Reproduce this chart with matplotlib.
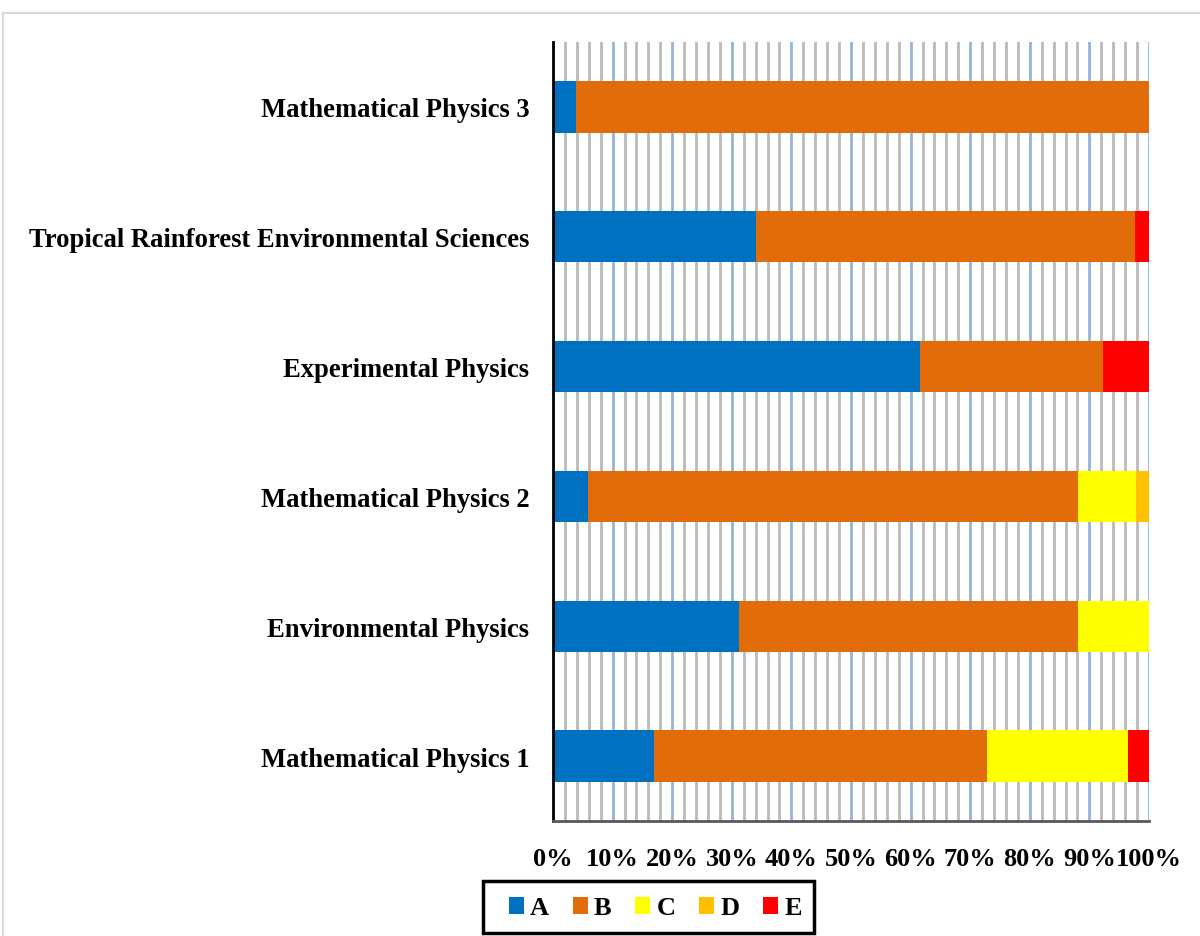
import matplotlib
matplotlib.use("Agg")
import matplotlib.pyplot as plt
from matplotlib.ticker import MultipleLocator, PercentFormatter
from matplotlib.patches import Rectangle
import numpy as np

categories = ["Mathematical Physics 1", "Environmental Physics", "Mathematical Physics 2",
              "Experimental Physics", "Tropical Rainforest Environmental Sciences", "Mathematical Physics 3"]
series_names = ["A", "B", "C", "D", "E"]
A = [16.9, 31.2, 5.9, 61.5, 34.0, 3.8]
B = [55.9, 56.9, 82.2, 30.7, 63.6, 96.2]
C = [23.7, 11.9, 9.7, 0.0, 0.0, 0.0]
D = [0.0, 0.0, 2.2, 0.0, 0.0, 0.0]
E = [3.5, 0.0, 0.0, 7.8, 2.4, 0.0]
colors = ["#0070C0", "#E36C0A", "#FFFF00", "#FFC000", "#FF0000"]

plt.rcParams['font.family'] = ['Liberation Serif', 'DejaVu Serif']

fig = plt.figure(figsize=(12, 9.37), dpi=100)
ax = fig.add_axes([553/1200, 1-822/937, 596/1200, 779/937])

y = np.arange(len(categories))
left = np.zeros(len(categories))
for name, vals, col in zip(series_names, [A, B, C, D, E], colors):
    v = np.array(vals)
    ax.barh(y, v, left=left, height=0.395, color=col, label=name, zorder=3)
    left += v

ax.set_xlim(0, 100)
ax.set_ylim(-0.5, len(categories) - 0.5)
ax.set_yticks(y)
ax.set_yticklabels(categories, fontsize=19.2, fontweight='bold')
ax.xaxis.set_major_locator(MultipleLocator(10))
ax.xaxis.set_minor_locator(MultipleLocator(2))
ax.xaxis.set_major_formatter(PercentFormatter(decimals=0))
for lab in ax.get_xticklabels():
    lab.set_fontweight('bold')
ax.tick_params(axis='x', labelsize=19, length=0, which='both', pad=19)
ax.tick_params(axis='y', length=0, pad=17)
ax.grid(axis='x', which='minor', color='#BABABA', linewidth=2)
ax.grid(axis='x', which='major', color='#95B3D7', linewidth=2)
ax.set_axisbelow(True)
for s in ['top', 'right']:
    ax.spines[s].set_visible(False)
ax.spines['bottom'].set_color('#595959')
ax.spines['bottom'].set_linewidth(2)
ax.spines['bottom'].set_zorder(4)
ax.spines['left'].set_color('black')
ax.spines['left'].set_linewidth(2)
ax.spines['left'].set_zorder(4)

# figure border
fig.patches.append(Rectangle((3/1200, -0.1), 1.2, (937-14)/937 + 0.1, transform=fig.transFigure,
                             fill=False, edgecolor='#D9D9D9', linewidth=1.5))

# legend box
fig.patches.append(Rectangle((483/1200, 1-934/937), (814-483)/1200, (934-882)/937,
                             transform=fig.transFigure, fill=False, edgecolor='black', linewidth=2.5))
leg = fig.legend(loc='center left', bbox_to_anchor=(509/1200, 1-909/937), ncol=5,
                 frameon=False, prop={'weight': 'bold', 'size': 19},
                 handlelength=0.55, handleheight=0.6,
                 handletextpad=0.25, columnspacing=0.9, borderpad=0, borderaxespad=0)

fig.savefig("out.png", dpi=100)
